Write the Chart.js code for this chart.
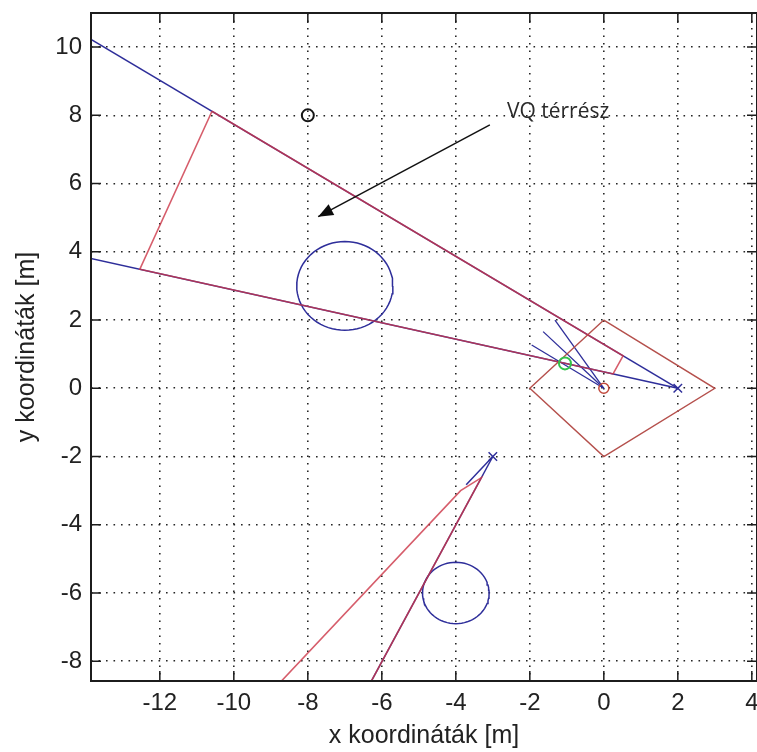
<!DOCTYPE html>
<html>
<head>
<meta charset="utf-8">
<title>VQ térrész</title>
<script src="https://cdn.jsdelivr.net/npm/chart.js@4.4.1/dist/chart.umd.min.js"></script>
<style>
  html, body { margin: 0; padding: 0; background: #ffffff; }
  #wrap { width: 757px; height: 752px; }
</style>
</head>
<body>
<div id="wrap"><canvas id="plot" width="757" height="752"></canvas></div>
<script>
// Axis ranges and tick values [m]
const xRange = [-13.86, 4.14];
const yRange = [-8.58, 11.0];
const xTicks = [-12, -10, -8, -6, -4, -2, 0, 2, 4];
const yTicks = [-8, -6, -4, -2, 0, 2, 4, 6, 8, 10];

// Visibility rays of the upper wedge (apex at the robot 'x' marker)
const rayUpperX = [2, -14];
const rayUpperY = [0, 10.32];
const rayLowerX = [2, -14];
const rayLowerY = [0, 3.84];

// Visibility rays of the lower wedge
const raySteepX = [-3, -6.74];
const raySteepY = [-2, -9.5];
const rayShortX = [-3, -3.72];
const rayShortY = [-2, -2.83];

// Sensor fan drawn from the origin
const fanEndX = [-1.32, -1.64, -1.95];
const fanEndY = [2.0, 1.66, 1.27];

// VQ regions (red outlines)
const regionUpperX = [-10.59, -12.54, 0.25, 0.52, -10.59];
const regionUpperY = [8.12, 3.49, 0.42, 0.95, 8.12];
const regionLowerX = [-9.51, -3.87, -3.31, -6.74];
const regionLowerY = [-9.5, -3.0, -2.62, -9.5];

// Robot footprint (diamond)
const diamondX = [0, 3, 0, -2, 0];
const diamondY = [2, 0, -2, 0, 2];

// Circular obstacles: centres and radii
const obstacleCx = [-7, -4];
const obstacleCy = [3, -6];
const obstacleR = [1.3, 0.9];

// Point markers
const goalX = [-8];
const goalY = [8];
const robotX = [2, -3];
const robotY = [0, -2];
const hitX = [-1.05];
const hitY = [0.73];
const originX = [0];
const originY = [0];

// Annotation
const labelText = 'VQ térrész';
const labelX = -2.62;
const labelY = 7.93;
const arrowFromX = -3.08, arrowFromY = 7.72;
const arrowToX = -7.72, arrowToY = 5.03;

const BLUE = '#2e2e9a';
const RED = 'rgba(204, 52, 70, 0.8)';
const BROWN = '#b5504c';

const pts = (xs, ys) => xs.map((v, i) => ({ x: v, y: ys[i] }));

function circleOutline(cx, cy, r) {
  const out = [];
  for (let k = 0; k <= 72; k++) {
    const a = (k / 72) * Math.PI * 2;
    out.push({ x: cx + r * Math.cos(a), y: cy + r * Math.sin(a) });
  }
  return out;
}

const lineDs = (data, color, width, order) => ({
  type: 'scatter', data, showLine: true, borderColor: color, borderWidth: width,
  pointRadius: 0, fill: false, tension: 0, order
});

const markerDs = (data, style, color, radius, width, order) => ({
  type: 'scatter', data, showLine: false, pointStyle: style, pointRadius: radius,
  pointBorderColor: color, pointBackgroundColor: 'rgba(0,0,0,0)', pointBorderWidth: width, order
});

const datasets = [];
// blue rays
datasets.push(lineDs(pts(rayUpperX, rayUpperY), BLUE, 1.5, 5));
datasets.push(lineDs(pts(rayLowerX, rayLowerY), BLUE, 1.5, 5));
datasets.push(lineDs(pts(raySteepX, raySteepY), BLUE, 1.5, 5));
datasets.push(lineDs(pts(rayShortX, rayShortY), BLUE, 1.5, 5));
fanEndX.forEach((fx, i) => {
  datasets.push(lineDs(pts([originX[0], fx], [originY[0], fanEndY[i]]), BLUE, 1.3, 5));
});
// obstacles
obstacleCx.forEach((cx, i) => {
  datasets.push(lineDs(circleOutline(cx, obstacleCy[i], obstacleR[i]), BLUE, 1.5, 5));
});
// red outlines
datasets.push(lineDs(pts(regionUpperX, regionUpperY), RED, 1.6, 4));
datasets.push(lineDs(pts(regionLowerX, regionLowerY), RED, 1.6, 4));
datasets.push(lineDs(pts(diamondX, diamondY), BROWN, 1.4, 4));
// arrow shaft
datasets.push(lineDs(pts([arrowFromX, arrowToX], [arrowFromY, arrowToY]), '#111111', 1.5, 3));
// markers
datasets.push(markerDs(pts(goalX, goalY), 'circle', '#151515', 6, 2, 1));
datasets.push(markerDs(pts(robotX, robotY), 'crossRot', BLUE, 6, 1.5, 1));
datasets.push(markerDs(pts(hitX, hitY), 'circle', '#33c24a', 6, 2, 1));
datasets.push(markerDs(pts(originX, originY), 'circle', '#c0483c', 5, 1.5, 1));

// Box with inward tick marks on all four sides
const frame = {
  id: 'frame',
  afterDatasetsDraw(chart) {
    const { ctx, chartArea: a, scales: { x, y } } = chart;
    ctx.save();
    ctx.strokeStyle = '#1c1c1c';
    ctx.lineWidth = 2;
    ctx.strokeRect(a.left, a.top, a.right - a.left, a.bottom - a.top);
    ctx.lineWidth = 1.5;
    ctx.beginPath();
    x.ticks.forEach(t => {
      const px = x.getPixelForValue(t.value);
      ctx.moveTo(px, a.bottom); ctx.lineTo(px, a.bottom - 10);
      ctx.moveTo(px, a.top); ctx.lineTo(px, a.top + 10);
    });
    y.ticks.forEach(t => {
      const py = y.getPixelForValue(t.value);
      ctx.moveTo(a.left, py); ctx.lineTo(a.left + 10, py);
      ctx.moveTo(a.right, py); ctx.lineTo(a.right - 10, py);
    });
    ctx.stroke();
    ctx.restore();
  }
};

// Arrow head and region label
const annotation = {
  id: 'annotation',
  afterDatasetsDraw(chart) {
    const { ctx, scales: { x, y } } = chart;
    const x0 = x.getPixelForValue(arrowFromX), y0 = y.getPixelForValue(arrowFromY);
    const x1 = x.getPixelForValue(arrowToX), y1 = y.getPixelForValue(arrowToY);
    const ang = Math.atan2(y1 - y0, x1 - x0);
    const len = 15, half = 6;
    const bx = x1 - len * Math.cos(ang), by = y1 - len * Math.sin(ang);
    ctx.save();
    ctx.fillStyle = '#0d0d0d';
    ctx.beginPath();
    ctx.moveTo(x1, y1);
    ctx.lineTo(bx + half * Math.sin(ang), by - half * Math.cos(ang));
    ctx.lineTo(bx - half * Math.sin(ang), by + half * Math.cos(ang));
    ctx.closePath();
    ctx.fill();
    ctx.font = '21px "Open Sans"';
    ctx.fillStyle = '#2a2a2a';
    ctx.textBaseline = 'alphabetic';
    ctx.textAlign = 'left';
    ctx.fillText(labelText, x.getPixelForValue(labelX), y.getPixelForValue(labelY));
    ctx.restore();
  }
};

const whiteBg = {
  id: 'whiteBg',
  beforeDraw(chart) {
    const { ctx, width, height } = chart;
    ctx.save();
    ctx.fillStyle = '#ffffff';
    ctx.fillRect(0, 0, width, height);
    ctx.restore();
  }
};

const tickFont = { family: '"Liberation Sans", Arial, sans-serif', size: 24 };
const titleFont = { family: '"Liberation Sans", Arial, sans-serif', size: 25 };
const gridDots = { color: 'rgba(0,0,0,0.85)', lineWidth: 1.6, drawTicks: false };

new Chart(document.getElementById('plot'), {
  type: 'scatter',
  data: { datasets },
  options: {
    responsive: false,
    animation: false,
    devicePixelRatio: 1,
    layout: { autoPadding: false, padding: { top: 13, right: 0, bottom: 0, left: 0 } },
    plugins: { legend: { display: false }, tooltip: { enabled: false } },
    scales: {
      x: {
        type: 'linear', min: xRange[0], max: xRange[1],
        grid: gridDots,
        border: { display: false, dash: [1.6, 5.9] },
        afterBuildTicks: s => { s.ticks = xTicks.map(v => ({ value: v })); },
        ticks: { font: tickFont, color: '#222222', padding: 8, maxRotation: 0, autoSkip: false,
                 callback: v => String(v) },
        title: { display: true, text: 'x koordináták [m]', font: titleFont, color: '#222222',
                 padding: { top: 0, bottom: 1 } },
        afterFit: s => { s.height = 71; s.paddingLeft = 0; s.paddingRight = 0; }
      },
      y: {
        type: 'linear', min: yRange[0], max: yRange[1],
        grid: gridDots,
        border: { display: false, dash: [1.6, 5.9] },
        afterBuildTicks: s => { s.ticks = yTicks.map(v => ({ value: v })); },
        ticks: { font: tickFont, color: '#222222', padding: 9, autoSkip: false,
                 callback: v => String(v) },
        title: { display: true, text: 'y koordináták [m]', font: titleFont, color: '#222222',
                 padding: { top: 12, bottom: 0 } },
        afterFit: s => { s.width = 91; s.paddingTop = 0; s.paddingBottom = 0; }
      }
    }
  },
  plugins: [whiteBg, frame, annotation]
});
</script>
</body>
</html>
